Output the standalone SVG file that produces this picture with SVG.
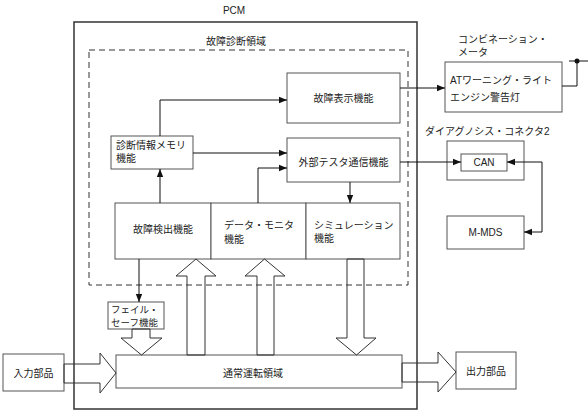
<svg xmlns="http://www.w3.org/2000/svg" width="588" height="413" viewBox="0 0 588 413">
<style>
.box{fill:#fff;stroke:#555;stroke-width:1}
.frame{fill:none;stroke:#333;stroke-width:1.5}
.dash{fill:none;stroke:#333;stroke-width:1;stroke-dasharray:6 4}
.ln{fill:none;stroke:#111;stroke-width:1}
.hollow{fill:none;stroke:#333;stroke-width:1}
text{font-family:"Liberation Sans","Noto Sans CJK JP",sans-serif;font-size:10px;fill:#222}
.c{text-anchor:middle}
.s{font-size:9.5px}
</style>
<defs>
<marker id="ah" viewBox="0 0 10 10" refX="10" refY="5" markerWidth="8" markerHeight="8" markerUnits="userSpaceOnUse" orient="auto">
<path d="M0,1 L10,5 L0,9 z" fill="#111"/>
</marker>
</defs>
<rect width="588" height="413" fill="#fff"/>

<g id="pcm">
<rect class="frame" x="74" y="22" width="343" height="387"/>
<text class="c" x="234" y="14">PCM</text>
</g>
<g id="diag-area">
<rect class="dash" x="89" y="50" width="319" height="235"/>
<text class="c" x="236" y="45">故障診断領域</text>
</g>

<g id="display">
<rect class="box" x="287" y="73" width="113" height="50"/>
<text class="c" x="343.5" y="101.5">故障表示機能</text>
</g>
<g id="tester">
<rect class="box" x="287" y="138" width="113" height="44"/>
<text class="c" x="343.5" y="165.5">外部テスタ通信機能</text>
</g>
<g id="memory">
<rect class="box" x="111" y="136" width="82" height="33"/>
<text x="116" y="148.5">診断情報メモリ</text>
<text x="116" y="161.5">機能</text>
</g>
<g id="detect">
<rect class="box" x="115" y="203" width="96" height="56"/>
<text class="c" x="163" y="232.5">故障検出機能</text>
</g>
<g id="monitor">
<rect class="box" x="211" y="203" width="95" height="56"/>
<text x="224" y="228.5">データ・モニタ</text>
<text x="224" y="242.5">機能</text>
</g>
<g id="simulation">
<rect class="box" x="306" y="203" width="94" height="56"/>
<text x="314" y="228.5">シミュレーション</text>
<text x="314" y="241.5">機能</text>
</g>
<g id="failsafe">
<rect class="box" x="108" y="302" width="56" height="27"/>
<text class="s" x="111" y="312.5">フェイル・</text>
<text class="s" x="111" y="326">セーフ機能</text>
</g>
<g id="normal">
<rect class="box" x="116" y="355" width="286" height="33"/>
<text class="c" x="253" y="376.5">通常運転領域</text>
</g>
<g id="input">
<rect class="box" x="3" y="354" width="61" height="37"/>
<text class="c" x="33.5" y="376.5">入力部品</text>
</g>
<g id="output">
<rect class="box" x="456" y="352" width="60" height="37"/>
<text class="c" x="486" y="374.5">出力部品</text>
</g>
<g id="meter">
<text x="458" y="42.5">コンビネーション・</text>
<text x="458" y="55.5">メータ</text>
<rect class="box" x="445" y="62" width="117" height="50"/>
<text x="450" y="83.5">ATワーニング・ライト</text>
<text x="450" y="100.5">エンジン警告灯</text>
</g>
<g id="connector2">
<text x="425" y="134.5">ダイアグノシス・コネクタ2</text>
<rect class="box" x="447" y="141" width="77" height="39"/>
</g>
<g id="can">
<rect class="box" x="461" y="154" width="46" height="17"/>
<text class="c" x="484" y="165.5">CAN</text>
</g>
<g id="mmds">
<rect class="box" x="447" y="216" width="77" height="33"/>
<text class="c" x="485.5" y="235.5">M-MDS</text>
</g>

<g id="connectors">
<line class="ln" x1="160" y1="203" x2="160" y2="169" marker-end="url(#ah)"/>
<polyline class="ln" points="160,136 160,100 287,100" marker-end="url(#ah)"/>
<line class="ln" x1="193" y1="153" x2="287" y2="153" marker-end="url(#ah)"/>
<polyline class="ln" points="258,203 258,168 287,168" marker-end="url(#ah)"/>
<line class="ln" x1="350" y1="182" x2="350" y2="203" marker-end="url(#ah)"/>
<line class="ln" x1="400" y1="88" x2="445" y2="88" marker-end="url(#ah)"/>
<polyline class="ln" points="562,86 577,86 577,61"/>
<line class="ln" x1="569" y1="61" x2="588" y2="61"/>
<circle cx="577" cy="61" r="2.5" fill="#111"/>
<line class="ln" x1="400" y1="162" x2="461" y2="162" marker-end="url(#ah)"/>
<polyline class="ln" points="542,200 542,162 507,162" marker-end="url(#ah)"/>
<polyline class="ln" points="542,200 542,232 524,232" marker-end="url(#ah)"/>
<line class="ln" x1="139" y1="259" x2="139" y2="302" marker-end="url(#ah)"/>
<polygon class="hollow" points="132,329 132,338 121,338 141.5,355 162,338 150,338 150,329"/>
<polygon class="hollow" points="187,355 187,276 176,276 196,259 216,276 205,276 205,355"/>
<polygon class="hollow" points="257,355 257,276 245,276 264.5,259 285,276 274,276 274,355"/>
<polygon class="hollow" points="347,259 347,338 336,338 356.5,355 376,338 364,338 364,259"/>
<polygon class="hollow" points="64,364 100,364 100,353 116,373 100,393 100,383 64,383"/>
<polygon class="hollow" points="402,363 438,363 438,352 456,372 438,392 438,382 402,382"/>
</g>
</svg>
